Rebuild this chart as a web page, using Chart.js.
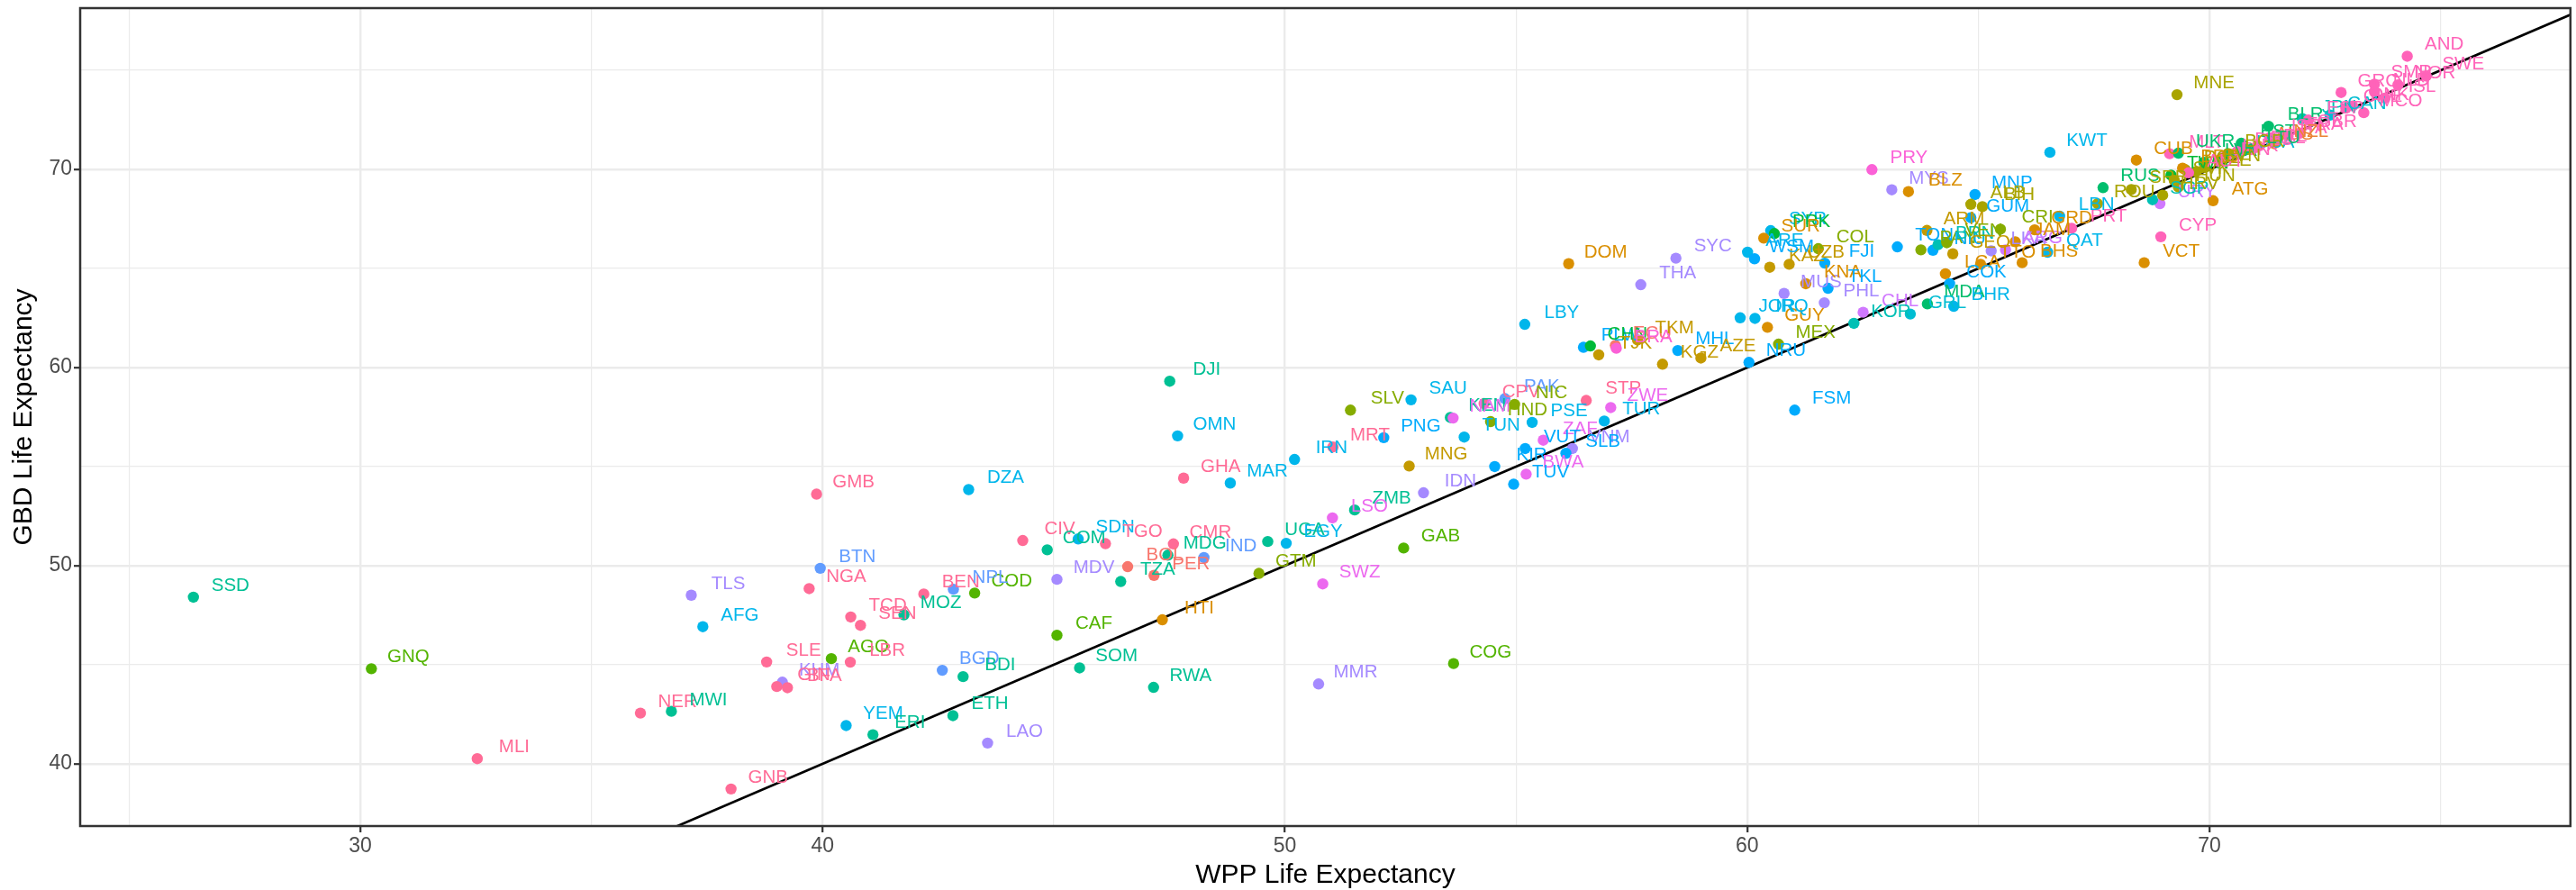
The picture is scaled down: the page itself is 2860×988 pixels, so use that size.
<!DOCTYPE html>
<html><head><meta charset="utf-8">
<script src="https://cdn.jsdelivr.net/npm/chart.js@4/dist/chart.umd.min.js"></script>
<style>html,body{margin:0;padding:0;background:#fff}#wrap{width:2860px;height:988px;position:relative}</style>
</head><body><div id="wrap"><canvas id="c" width="2860" height="988"></canvas></div>
<script>
const regionNames = ["Andean Latin America","Australasia","Caribbean","Central Asia","Central Europe","Central Latin America","Central Sub-Saharan Africa","East Asia","Eastern Europe","Eastern Sub-Saharan Africa","High-income Asia Pacific","High-income North America","North Africa and Middle East","Oceania","South Asia","Southeast Asia","Southern Latin America","Southern Sub-Saharan Africa","Tropical Latin America","Western Europe","Western Sub-Saharan Africa"];
const countries = [
 "SSD","GNQ","MLI","NER","MWI","TLS","AFG","DJI","OMN","GHA",
 "GMB","DZA","CIV","COM","SDN","TGO","CMR","MDG","IND","BOL",
 "PER","TZA","MDV","COD","BEN","NPL","MOZ","TCD","SEN","NGA",
 "BTN","CAF","HTI","SLE","AGO","LBR","KHM","GIN","BFA","BGD",
 "BDI","SOM","RWA","ETH","YEM","ERI","LAO","GNB","MAR","IRN",
 "MRT","PNG","SLV","SAU","KEN","NAM","PAK","CPV","NIC","HND",
 "TUN","PSE","STP","ZWE","TUR","ZAF","VUT","VNM","SLB","KIR",
 "BWA","TUV","MNG","IDN","ZMB","LSO","UGA","EGY","GTM","SWZ",
 "GAB","COG","MMR","FSM","DOM","THA","SYC","LBY","PLW","CHN",
 "TJK","ECU","BRA","TKM","KGZ","MHL","AZE","NRU","MEX","GUY",
 "JOR","IRQ","MUS","PHL","KNA","TKL","FJI","KAZ","UZB","COL",
 "ARE","WSM","SYR","PRK","SUR","PRY","MYS","BLZ","KWT","CUB",
 "MLT","UKR","MNE","MNP","ALB","BIH","GUM","ARM","TON","PAN",
 "NIU","BRN","VEN","GEO","CRI","GRD","LKA","ARG","JAM","TTO",
 "BHS","QAT","PRT","LCA","COK","MDA","GRL","BHR","CHL","KOR",
 "RUS","SRB","ROU","LBN","CYP","VCT","ATG","URY","SGP","HRV",
 "TWN","HUN","POL","CZE","SVK","BRB","AUT","LVA","EST","USA",
 "AUS","BLR","JPN","ESP","CAN","GRC","MCO","SMR","NLD","NOR",
 "SWE","AND","GBR","FRA","ITA","DEU","BEL","FIN","IRL","LUX",
 "DNK","CHE","ISL","ISR","NZL","SVN","BGR","LTU"];
const wppLife = [
 26.39,30.24,32.53,36.06,36.73,37.16,37.41,47.51,47.68,47.81,
 39.87,43.16,44.33,44.86,45.53,46.12,47.59,47.47,48.25,46.60,
 47.17,46.45,45.07,43.29,42.19,42.83,41.76,40.61,40.82,39.71,
 39.95,45.07,47.35,38.79,40.19,40.60,39.13,39.01,39.24,42.59,
 43.04,45.56,47.16,42.82,40.51,41.09,43.57,38.02,48.82,50.21,
 51.04,52.14,51.42,52.73,53.58,53.64,54.76,54.31,54.97,54.45,
 53.88,55.35,56.52,57.05,56.91,55.59,55.20,56.22,56.08,54.54,
 55.22,54.95,52.69,53.00,51.51,51.03,49.63,50.03,49.44,50.82,
 52.57,53.65,50.73,61.03,56.14,57.70,58.46,55.19,56.46,56.61,
 56.79,57.15,57.17,57.63,58.17,58.50,59.00,60.04,60.68,60.44,
 59.85,60.17,60.80,61.67,61.27,61.75,61.68,60.49,60.91,61.54,
 60.01,60.16,60.51,60.59,60.36,62.70,63.13,63.49,66.55,68.42,
 69.14,69.33,69.30,64.93,64.84,65.09,64.84,63.89,63.25,63.76,
 64.02,64.13,64.32,64.45,65.48,66.22,65.28,65.59,65.80,65.05,
 65.95,66.50,67.02,64.29,64.38,63.90,63.53,64.47,62.51,62.31,
 67.70,68.31,67.58,66.76,68.95,68.59,70.08,68.93,68.77,68.99,
 69.17,69.33,69.48,69.71,69.24,69.42,69.55,69.88,70.69,70.63,
 71.04,71.28,72.01,72.14,72.61,72.85,73.34,73.57,73.57,74.08,
 74.69,74.28,71.96,71.70,71.45,70.60,70.90,70.20,71.00,70.30,
 73.10,72.95,73.80,71.30,71.40,69.90,70.40,70.80];
const gbdLife = [
 48.41,44.80,40.26,42.56,42.65,48.51,46.92,59.31,56.55,54.42,
 53.61,53.84,51.27,50.80,51.35,51.11,51.10,50.53,50.41,49.95,
 49.51,49.20,49.31,48.62,48.57,48.81,47.52,47.41,46.99,48.84,
 49.87,46.49,47.27,45.14,45.31,45.13,44.12,43.90,43.84,44.72,
 44.40,44.84,43.86,42.43,41.93,41.47,41.05,38.73,54.17,55.36,
 55.99,56.46,57.85,58.37,57.48,57.45,58.43,58.18,58.14,57.27,
 56.49,57.23,58.34,57.98,57.30,56.33,55.91,55.91,55.67,55.00,
 54.62,54.11,55.03,53.68,52.81,52.41,51.22,51.13,49.61,49.08,
 50.89,45.06,44.03,57.85,65.24,64.18,65.52,62.18,61.02,61.09,
 60.64,61.12,60.97,61.39,60.17,60.86,60.48,60.26,61.18,62.03,
 62.51,62.48,63.74,63.27,64.23,64.00,65.27,65.06,65.21,66.00,
 65.82,65.49,66.91,66.76,66.53,69.99,68.97,68.88,70.86,70.47,
 70.79,70.82,73.77,68.73,68.24,68.12,67.56,66.92,66.09,65.94,
 65.92,66.20,66.30,65.74,66.98,66.95,65.89,65.94,66.35,65.21,
 65.29,65.82,67.03,64.73,64.23,63.21,62.70,63.09,62.79,62.23,
 69.08,68.98,68.27,67.64,66.60,65.29,68.42,68.27,68.47,68.70,
 69.71,69.11,69.98,69.88,69.45,70.06,69.83,70.36,71.32,70.77,
 71.20,72.18,72.56,72.49,72.74,73.88,72.86,74.30,73.92,74.27,
 74.71,75.71,71.83,71.70,71.50,70.90,71.00,70.40,71.10,70.60,
 73.20,73.10,73.60,71.60,71.30,70.10,70.80,71.00];
const regionOf = [
 9,6,20,20,9,15,12,9,12,20,
 20,12,20,9,12,20,20,9,14,0,
 0,9,15,6,20,14,9,20,20,20,
 14,6,2,20,6,20,15,20,20,14,
 9,9,9,9,12,9,15,20,12,12,
 20,13,5,12,9,17,14,20,5,5,
 12,12,20,17,12,17,13,15,13,13,
 17,13,3,15,9,17,9,12,5,17,
 6,6,15,13,2,15,15,12,13,7,
 3,0,18,3,3,13,3,13,5,2,
 12,12,15,15,2,13,13,3,3,5,
 12,13,12,7,2,18,15,2,12,2,
 19,8,4,13,4,4,13,3,13,5,
 13,10,5,3,5,2,15,16,2,2,
 2,12,19,2,13,8,11,12,16,10,
 8,4,4,12,19,2,2,16,10,4,
 7,4,4,4,4,2,19,8,8,11,
 1,8,10,19,11,19,19,19,19,19,
 19,19,19,19,19,19,19,19,19,19,
 19,19,19,19,1,4,4,8];
const xMajorTicks = [30,40,50,60,70];
const xMinorTicks = [25,35,45,55,65,75];
const yMajorTicks = [40,50,60,70];
const yMinorTicks = [45,55,65,75];
const xRange = [23.94, 77.81];
const yRange = [36.86, 78.14];
const identityLine = [0, 100];
const labelNudge = [0.8, 0.58];

function hcl(h, c, l) {
  const hr = h * Math.PI / 180;
  const U = c * Math.cos(hr), V = c * Math.sin(hr);
  const Xn = 95.047, Yn = 100, Zn = 108.883;
  const den = Xn + 15 * Yn + 3 * Zn;
  const un = 4 * Xn / den, vn = 9 * Yn / den;
  const Y = Yn * Math.pow((l + 16) / 116, 3);
  const u = U / (13 * l) + un, v = V / (13 * l) + vn;
  const X = Y * 9 * u / (4 * v);
  const Z = Y * (12 - 3 * u - 20 * v) / (4 * v);
  const x = X / 100, y = Y / 100, z = Z / 100;
  const lin = [3.240479 * x - 1.537150 * y - 0.498535 * z,
               -0.969256 * x + 1.875992 * y + 0.041556 * z,
               0.055648 * x - 0.204043 * y + 1.057311 * z];
  const g = lin.map(t => { t = t <= 0.0031308 ? 12.92 * t : 1.055 * Math.pow(t, 1 / 2.4) - 0.055; return Math.round(Math.max(0, Math.min(1, t)) * 255); });
  return '#' + g.map(t => t.toString(16).padStart(2, '0')).join('');
}
const nReg = regionNames.length;
const palette = regionNames.map((_, i) => hcl(15 + 360 * i / nReg, 100, 65));
const pointColors = regionOf.map(r => palette[r]);

const FONT = "'Liberation Sans', Arial, Helvetica, sans-serif";

const labelPlugin = {
  id: 'codeLabels',
  afterDatasetsDraw(chart) {
    const {ctx, chartArea: a, scales: {x, y}} = chart;
    ctx.save();
    ctx.beginPath(); ctx.rect(a.left, a.top, a.right - a.left, a.bottom - a.top); ctx.clip();
    ctx.font = '20.5px ' + FONT;
    ctx.textAlign = 'center'; ctx.textBaseline = 'middle';
    countries.forEach((code, i) => {
      ctx.fillStyle = pointColors[i];
      ctx.fillText(code, x.getPixelForValue(wppLife[i] + labelNudge[0]), y.getPixelForValue(gbdLife[i] + labelNudge[1]));
    });
    ctx.restore();
  },
  afterDraw(chart) {
    const {ctx, chartArea: a} = chart;
    ctx.save();
    ctx.strokeStyle = '#333333'; ctx.lineWidth = 2.5;
    ctx.strokeRect(a.left, a.top, a.right - a.left, a.bottom - a.top);
    ctx.restore();
  }
};

function tickSetter(major, minor) {
  return s => { s.ticks = major.concat(minor).sort((p, q) => p - q).map(v => ({value: v})); };
}

new Chart(document.getElementById('c'), {
  type: 'scatter',
  data: {
    datasets: [
      { type: 'scatter', data: wppLife.map((v, i) => ({x: v, y: gbdLife[i]})), backgroundColor: pointColors, pointRadius: 6.2, pointBorderWidth: 0, pointHoverRadius: 6.2, order: 1 },
      { type: 'line', data: identityLine.map(v => ({x: v, y: v})), borderColor: '#000000', borderWidth: 2.7, pointRadius: 0, fill: false, order: 2 }
    ]
  },
  options: {
    responsive: false, animation: false, devicePixelRatio: 1,
    layout: { padding: { top: 9, right: 2, left: 0, bottom: 0 } },
    plugins: { legend: { display: false }, tooltip: { enabled: false } },
    events: [],
    scales: {
      x: {
        type: 'linear', position: 'bottom', min: xRange[0], max: xRange[1],
        afterBuildTicks: tickSetter(xMajorTicks, xMinorTicks),
        afterFit: s => { s.height = 71; s.paddingLeft = 0; s.paddingRight = 0; },
        ticks: { autoSkip: false, maxRotation: 0, padding: 2, color: '#4D4D4D', font: { family: FONT, size: 23 },
                 callback: v => xMajorTicks.includes(v) ? String(v) : '' },
        grid: { color: '#EBEBEB', lineWidth: c => (c.tick && xMajorTicks.includes(c.tick.value)) ? 2.4 : 1.2,
                tickLength: 7, tickWidth: 2.2, tickColor: c => (c.tick && xMajorTicks.includes(c.tick.value)) ? '#333333' : 'rgba(0,0,0,0)' },
        border: { display: false },
        title: { display: true, text: 'WPP Life Expectancy', color: '#000000', font: { family: FONT, size: 30, lineHeight: 1 }, padding: { top: 0, bottom: 1 } }
      },
      y: {
        type: 'linear', position: 'left', min: yRange[0], max: yRange[1],
        afterBuildTicks: tickSetter(yMajorTicks, yMinorTicks),
        afterFit: s => { s.width = 89; s.paddingTop = 0; s.paddingBottom = 0; },
        ticks: { autoSkip: false, padding: 2, color: '#4D4D4D', font: { family: FONT, size: 23 },
                 callback: v => yMajorTicks.includes(v) ? String(v) : '' },
        grid: { color: '#EBEBEB', lineWidth: c => (c.tick && yMajorTicks.includes(c.tick.value)) ? 2.4 : 1.2,
                tickLength: 7, tickWidth: 2.2, tickColor: c => (c.tick && yMajorTicks.includes(c.tick.value)) ? '#333333' : 'rgba(0,0,0,0)' },
        border: { display: false },
        title: { display: true, text: 'GBD Life Expectancy', color: '#000000', font: { family: FONT, size: 30, lineHeight: 1 }, padding: { top: 12, bottom: 0 } }
      }
    }
  },
  plugins: [labelPlugin]
});
</script></body></html>
